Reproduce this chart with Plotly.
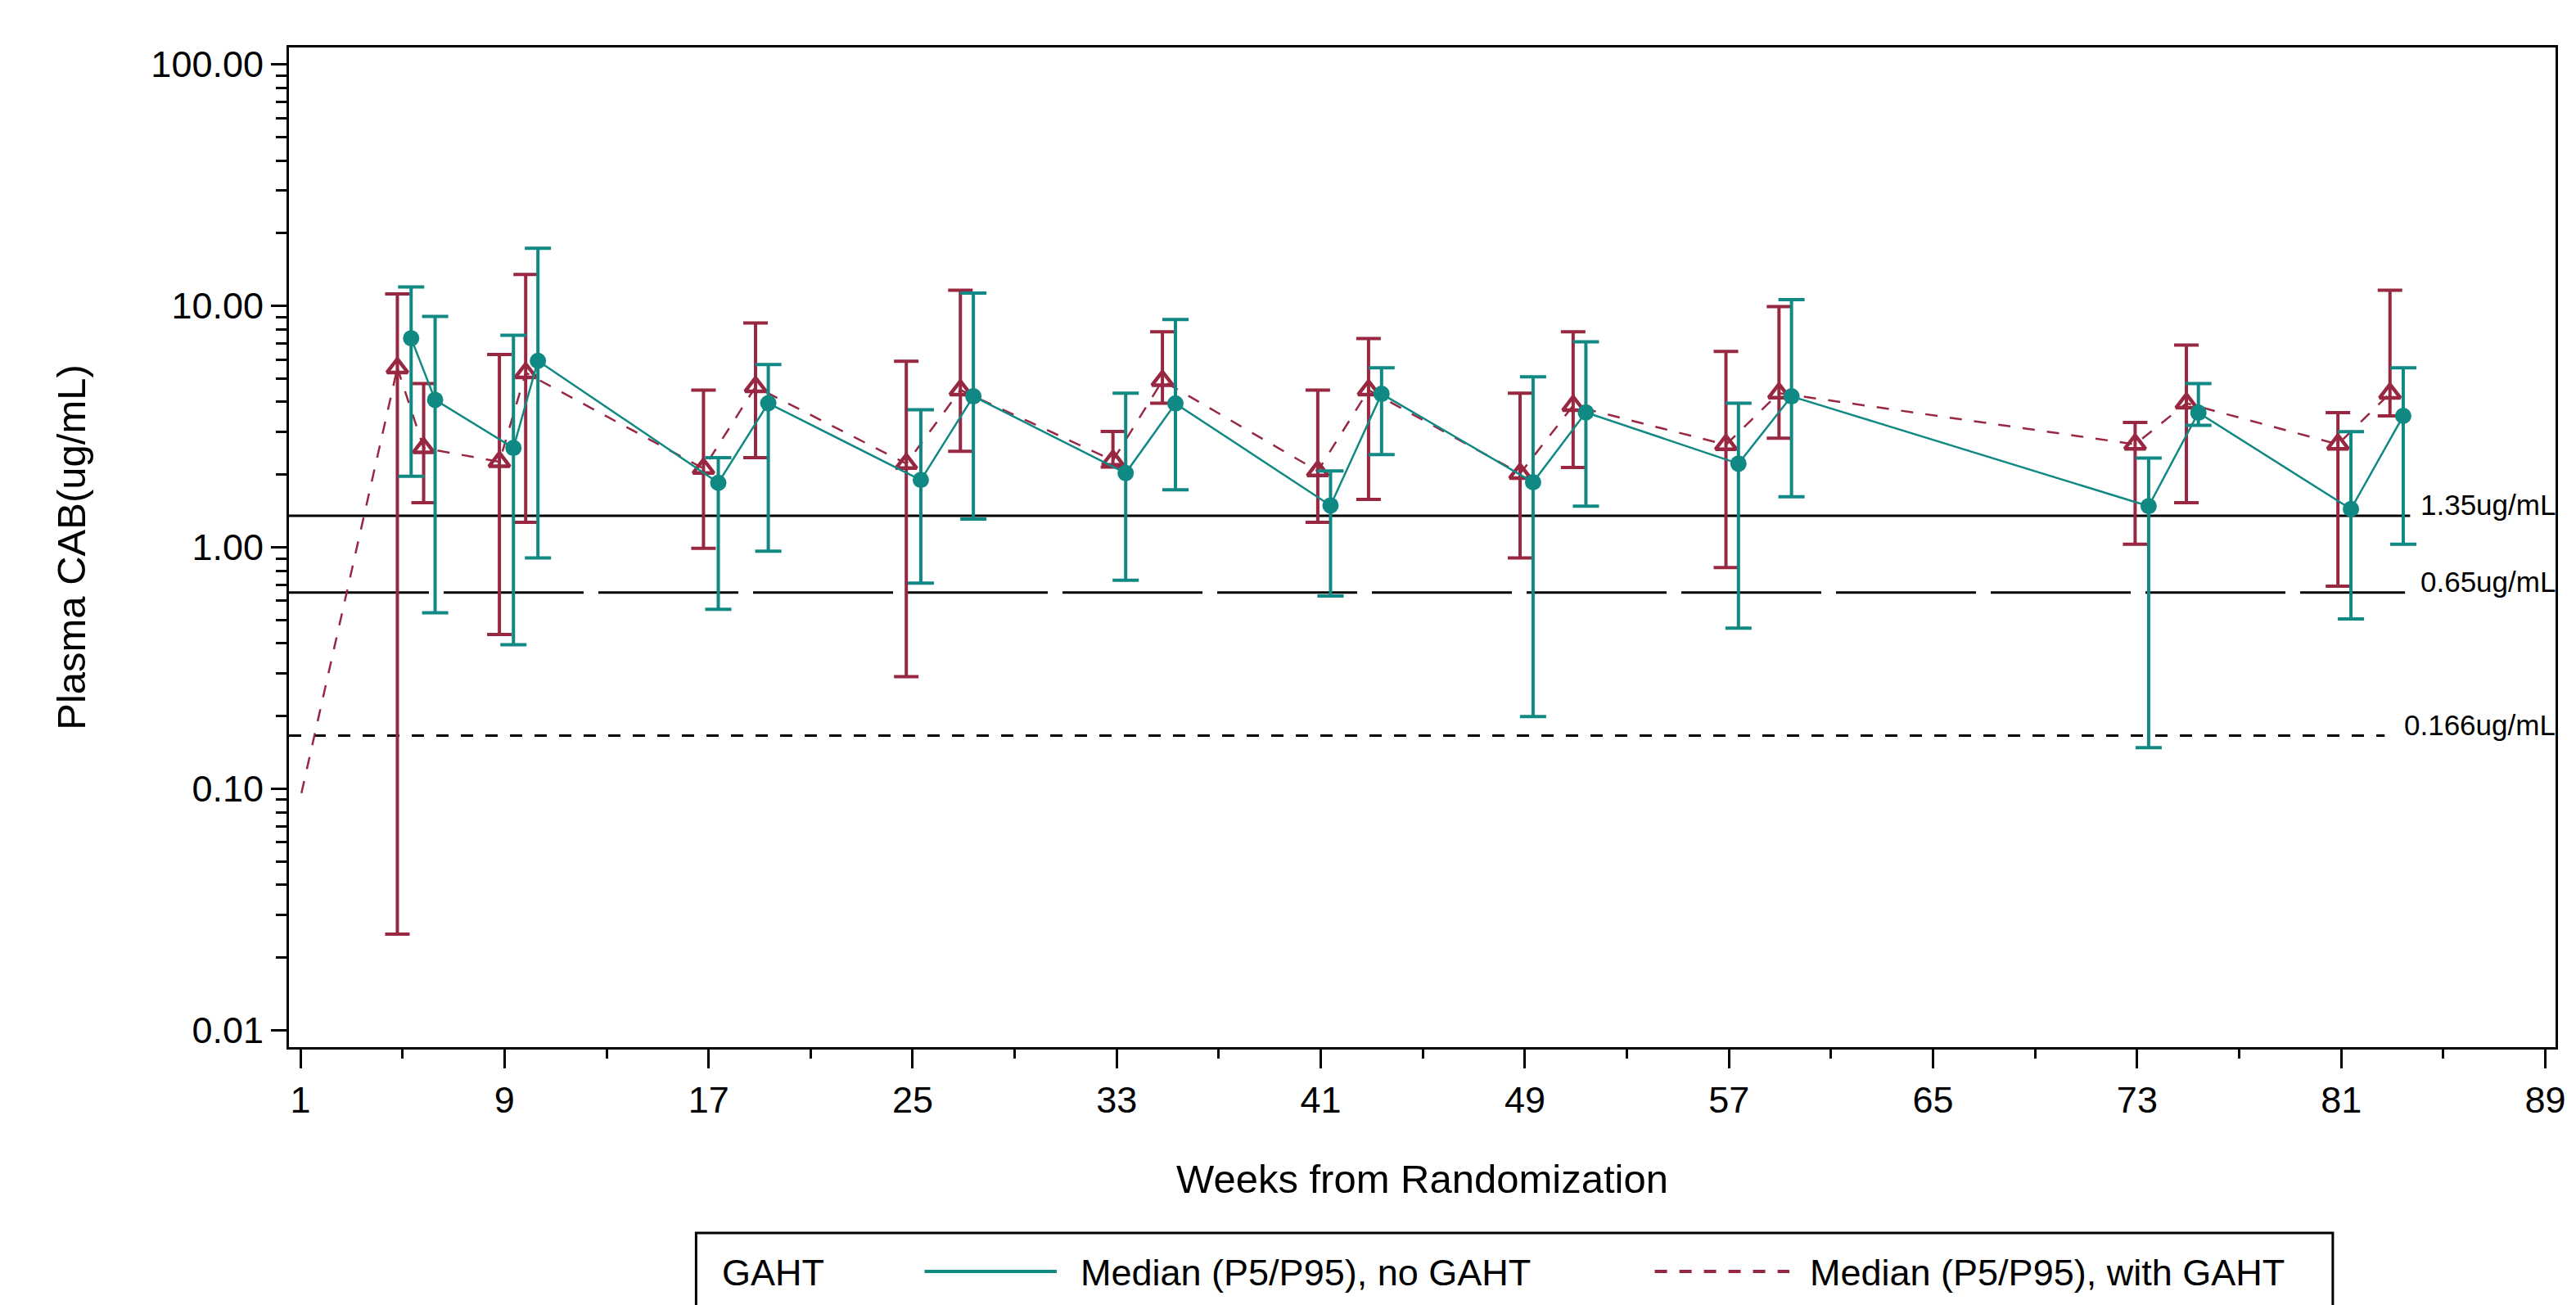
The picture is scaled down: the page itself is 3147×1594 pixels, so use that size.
import numpy as np
import plotly.graph_objects as go

# ---------------- data ----------------
# no GAHT (teal)
noGAHT_week = [5.34, 6.28, 9.35, 10.31, 17.38, 19.34, 25.32, 27.38, 33.35, 35.30,
               41.38, 43.38, 49.32, 51.39, 57.37, 59.45, 73.45, 75.40, 81.38, 83.43]
noGAHT_median = [7.34, 4.08, 2.58, 5.92, 1.85, 3.95, 1.90, 4.22, 2.03, 3.94,
                 1.49, 4.32, 1.86, 3.62, 2.22, 4.22, 1.48, 3.61, 1.44, 3.50]
noGAHT_p5 = [1.97, 0.536, 0.395, 0.904, 0.554, 0.963, 0.71, 1.31, 0.73, 1.73,
             0.628, 2.42, 0.199, 1.48, 0.463, 1.62, 0.148, 3.20, 0.505, 1.03]
noGAHT_p95 = [11.97, 9.04, 7.56, 17.3, 2.35, 5.71, 3.71, 11.3, 4.35, 8.78,
              2.07, 5.54, 5.08, 7.10, 3.95, 10.6, 2.34, 4.77, 3.01, 5.54]

# with GAHT (red)
withGAHT_base_week = [1.04]
withGAHT_base_median = [0.096]
withGAHT_week = [4.80, 5.83, 8.80, 9.83, 16.80, 18.84, 24.75, 26.87, 32.85, 34.79,
                 40.88, 42.87, 48.81, 50.89, 56.88, 58.96, 72.92, 74.93, 80.87, 82.91]
withGAHT_median = [5.53, 2.58, 2.26, 5.28, 2.12, 4.62, 2.22, 4.48, 2.29, 4.90,
                   2.07, 4.48, 2.02, 3.86, 2.66, 4.35, 2.67, 3.95, 2.67, 4.34]
withGAHT_p5 = [0.025, 1.53, 0.435, 1.27, 0.99, 2.35, 0.291, 2.50, 2.15, 3.95,
               1.27, 1.58, 0.904, 2.14, 0.824, 2.83, 1.03, 1.53, 0.69, 3.50]
withGAHT_p95 = [11.2, 4.77, 6.29, 13.5, 4.48, 8.5, 5.9, 11.6, 3.02, 7.81,
                4.48, 7.32, 4.35, 7.81, 6.48, 9.92, 3.29, 6.88, 3.61, 11.6]

# reference lines
ref_values = [1.35, 0.65, 0.166]
ref_labels = ["1.35ug/mL", "0.65ug/mL", "0.166ug/mL"]
ref_line_end = [83.7, 83.5, 82.7]
ref_dash = ["solid", "171px,18px", "15px,15px"]

x_tickvals = [1, 9, 17, 25, 33, 41, 49, 57, 65, 73, 81, 89]
x_minor = [5, 13, 21, 29, 37, 45, 53, 61, 69, 77, 85]
y_tickvals = [0.01, 0.1, 1, 10, 100]
y_ticktext = ["0.01", "0.10", "1.00", "10.00", "100.00"]
y_minor = [m * d for d in [0.01, 0.1, 1, 10] for m in range(2, 10)]

TEAL = "#108984"
RED = "#982841"
FONT = "Liberation Sans, Arial, sans-serif"

W, H = 3147, 1594
L, R, T, B = 353, 16, 58, 315
PW, PH = W - L - R, H - T - B


def px(X):
    return (X - L) / PW


def py(Y):
    return (H - B - Y) / PH


fig = go.Figure()

# reference lines
X0 = 0.55
for v, xe, d in zip(ref_values, ref_line_end, ref_dash):
    fig.add_trace(go.Scatter(x=[X0, xe], y=[v, v], mode="lines",
                             line=dict(color="black", width=3, dash=d),
                             showlegend=False, hoverinfo="skip"))

# with GAHT: baseline segment
fig.add_trace(go.Scatter(x=withGAHT_base_week + withGAHT_week[:1],
                         y=withGAHT_base_median + withGAHT_median[:1],
                         mode="lines", line=dict(color=RED, width=2.5, dash="15px,15px"),
                         showlegend=False, hoverinfo="skip"))

# with GAHT
wm = np.array(withGAHT_median)
fig.add_trace(go.Scatter(
    x=withGAHT_week, y=withGAHT_median, mode="lines+markers",
    name="Median (P5/P95), with GAHT",
    line=dict(color=RED, width=2.5, dash="15px,15px"),
    marker=dict(symbol="triangle-up-open", size=22, color=RED, line=dict(width=4.5, color=RED)),
    error_y=dict(type="data", symmetric=False,
                 array=list(np.array(withGAHT_p95) - wm),
                 arrayminus=list(wm - np.array(withGAHT_p5)),
                 color=RED, thickness=4, width=15),
    showlegend=False))

# no GAHT
nm = np.array(noGAHT_median)
fig.add_trace(go.Scatter(
    x=noGAHT_week, y=noGAHT_median, mode="lines+markers",
    name="Median (P5/P95), no GAHT",
    line=dict(color=TEAL, width=2.5),
    marker=dict(symbol="circle", size=20, color=TEAL),
    error_y=dict(type="data", symmetric=False,
                 array=list(np.array(noGAHT_p95) - nm),
                 arrayminus=list(nm - np.array(noGAHT_p5)),
                 color=TEAL, thickness=4, width=16),
    showlegend=False))

annotations = []
for v, lab in zip(ref_values, ref_labels):
    annotations.append(dict(xref="paper", yref="y", x=1.0, y=np.log10(v),
                            text=lab, showarrow=False, xanchor="right", yanchor="bottom",
                            xshift=2, yshift=-8, font=dict(family=FONT, size=35, color="black")))

# legend (drawn)
leg_y = py(1554)
annotations += [
    dict(xref="paper", yref="paper", x=px(882), y=leg_y, text="GAHT", showarrow=False,
         xanchor="left", yanchor="middle", font=dict(family=FONT, size=45, color="black")),
    dict(xref="paper", yref="paper", x=px(1321), y=leg_y, text="Median (P5/P95), no GAHT",
         showarrow=False, xanchor="left", yanchor="middle",
         font=dict(family=FONT, size=45, color="black")),
    dict(xref="paper", yref="paper", x=px(2215), y=leg_y, text="Median (P5/P95), with GAHT",
         showarrow=False, xanchor="left", yanchor="middle",
         font=dict(family=FONT, size=45, color="black")),
]
shapes = [
    dict(type="rect", xref="paper", yref="paper", x0=px(852), x1=px(2858),
         y0=py(1506), y1=py(1660), line=dict(color="black", width=3)),
    dict(type="line", xref="paper", yref="paper", x0=px(1132), x1=px(1294),
         y0=py(1553), y1=py(1553), line=dict(color=TEAL, width=4)),
    dict(type="line", xref="paper", yref="paper", x0=px(2027), x1=px(2192),
         y0=py(1553), y1=py(1553), line=dict(color=RED, width=4, dash="15px,15px")),
]

fig.update_layout(
    width=W, height=H,
    margin=dict(l=L, r=R, t=T, b=B, pad=0),
    paper_bgcolor="white", plot_bgcolor="white",
    font=dict(family=FONT, size=45, color="black"),
    annotations=annotations, shapes=shapes,
    showlegend=False,
)
fig.update_xaxes(
    range=[0.55, 89.4], tickvals=x_tickvals, ticks="outside", ticklen=23, tickwidth=3,
    tickcolor="black", showline=True, linewidth=3, linecolor="black", mirror=True,
    showgrid=False, zeroline=False, tickfont=dict(family=FONT, size=45),
    minor=dict(tickvals=x_minor, ticks="outside", ticklen=11, tickwidth=3, tickcolor="black",
               showgrid=False),
    title=dict(text="Weeks from Randomization", font=dict(family=FONT, size=49), standoff=55),
)
fig.update_yaxes(
    type="log", range=[-2.07, 2.07], tickvals=y_tickvals, ticktext=y_ticktext,
    ticks="outside", ticklen=19, tickwidth=3, tickcolor="black",
    showline=True, linewidth=3, linecolor="black", mirror=True,
    showgrid=False, zeroline=False, tickfont=dict(family=FONT, size=45),
    minor=dict(tickvals=y_minor, ticks="outside", ticklen=13, tickwidth=3, tickcolor="black",
               showgrid=False),
    title=dict(text="Plasma CAB(ug/mL)", font=dict(family=FONT, size=49), standoff=65),
)

fig.write_html("out.html", config={"displayModeBar": False},
               post_script="document.body.style.margin='0';document.body.style.overflow='hidden';")
